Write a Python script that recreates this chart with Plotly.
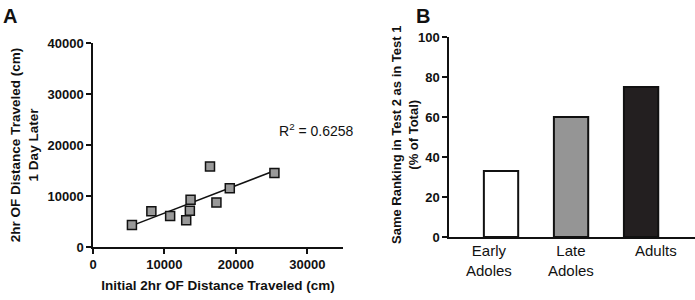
import numpy as np
import plotly.graph_objects as go

# ---- Data ----
initial_dist = [5450, 8170, 10800, 13050, 13560, 13660, 16380, 17280, 19150, 25400]
later_dist = [4300, 7000, 6080, 5230, 7120, 9280, 15800, 8750, 11500, 14500]
r2_text = "R<sup>2</sup> = 0.6258"

groups = ["Early<br>Adoles", "Late<br>Adoles", "Adults"]
same_rank_pct = [33, 60, 75]
bar_colors = ["#ffffff", "#959595", "#231f20"]

FONT = "Liberation Sans, Arial, Helvetica, sans-serif"

fig = go.Figure()

# regression line
slope, intercept = np.polyfit(initial_dist, later_dist, 1)
xl = [min(initial_dist), max(initial_dist)]
yl = [slope * v + intercept for v in xl]
fig.add_trace(go.Scatter(
    x=xl, y=yl, mode="lines", line=dict(color="#111111", width=1.5),
    xaxis="x", yaxis="y", showlegend=False))

# Panel A scatter
fig.add_trace(go.Scatter(
    x=initial_dist, y=later_dist, mode="markers",
    marker=dict(symbol="square", size=9, color="#999999",
                line=dict(color="#111111", width=1.5)),
    xaxis="x", yaxis="y", showlegend=False, cliponaxis=False))

# Panel B bars
xb = list(range(len(groups)))
fig.add_trace(go.Bar(
    x=xb, y=same_rank_pct, width=0.49,
    marker=dict(color=bar_colors, line=dict(color="#111111", width=2)),
    xaxis="x2", yaxis="y2", showlegend=False))

tickfont = dict(family=FONT, size=13, color="#111111", weight="bold")
titlefont = dict(family=FONT, size=13.5, color="#111111", weight="bold")

axis_common = dict(showgrid=False, zeroline=False, showline=True,
                   linecolor="#111111", linewidth=1.5, ticks="outside",
                   ticklen=5, tickwidth=1.5, tickcolor="#111111",
                   tickfont=tickfont, tickformat="d", automargin=False)

fig.update_layout(
    template="none",
    width=695, height=300,
    margin=dict(l=0, r=0, t=0, b=0, pad=0),
    paper_bgcolor="white", plot_bgcolor="white",
    font=dict(family=FONT, color="#111111"),
    xaxis=dict(domain=[93 / 695, 343 / 695], range=[0, 35000],
               tickvals=[0, 10000, 20000, 30000], anchor="y",
               title=dict(text="Initial 2hr OF Distance Traveled (cm)",
                          font=titlefont, standoff=9),
               **axis_common),
    yaxis=dict(domain=[1 - 247 / 300, 1 - 43 / 300], range=[0, 40000],
               tickvals=[0, 10000, 20000, 30000, 40000], anchor="x",
               title=dict(text="2hr OF Distance Traveled (cm)<br>1 Day Later",
                          font=titlefont, standoff=6),
               **axis_common),
    xaxis2=dict(domain=[449 / 695, 1.0], range=[-0.743, 2.77],
                showgrid=False, zeroline=False, showline=True,
                linecolor="#111111", linewidth=1.5, ticks="",
                showticklabels=False, anchor="y2", automargin=False),
    yaxis2=dict(domain=[1 - 237 / 300, 1 - 37 / 300], range=[0, 100],
                tickvals=[0, 20, 40, 60, 80, 100], anchor="x2",
                **axis_common),
    bargap=0.5,
)

annotations = [
    dict(text=r2_text, x=25700, y=23000, xref="x", yref="y",
         xanchor="left", yanchor="middle", showarrow=False,
         font=dict(family=FONT, size=14, color="#111111")),
    dict(text="<b>A</b>", x=1 / 695, y=1 - 3 / 300, xref="paper", yref="paper",
         xanchor="left", yanchor="top", showarrow=False,
         font=dict(family=FONT, size=20, color="#111111")),
    dict(text="<b>B</b>", x=414 / 695, y=1 - 3 / 300, xref="paper", yref="paper",
         xanchor="left", yanchor="top", showarrow=False,
         font=dict(family=FONT, size=20, color="#111111")),
    # panel B y-axis title
    dict(text="Same Ranking in Test 2 as in Test 1<br>(% of Total)",
         x=405 / 695, y=1 - 135 / 300, xref="paper", yref="paper",
         xanchor="center", yanchor="middle", textangle=-90, showarrow=False,
         font=dict(family=FONT, size=13, color="#111111", weight="bold")),
]
# category labels under bars
label_offsets = [-0.17, 0.0, 0.22]
for i, g in enumerate(groups):
    annotations.append(dict(
        text=g, x=xb[i] + label_offsets[i], y=1 - 240 / 300, xref="x2", yref="paper",
        xanchor="center", yanchor="top", showarrow=False,
        font=dict(family=FONT, size=15, color="#111111")))
fig.update_layout(annotations=annotations)

fig.write_html("out.html", config={"displayModeBar": False},
               post_script="document.body.style.margin='0';document.body.style.overflow='hidden';")
